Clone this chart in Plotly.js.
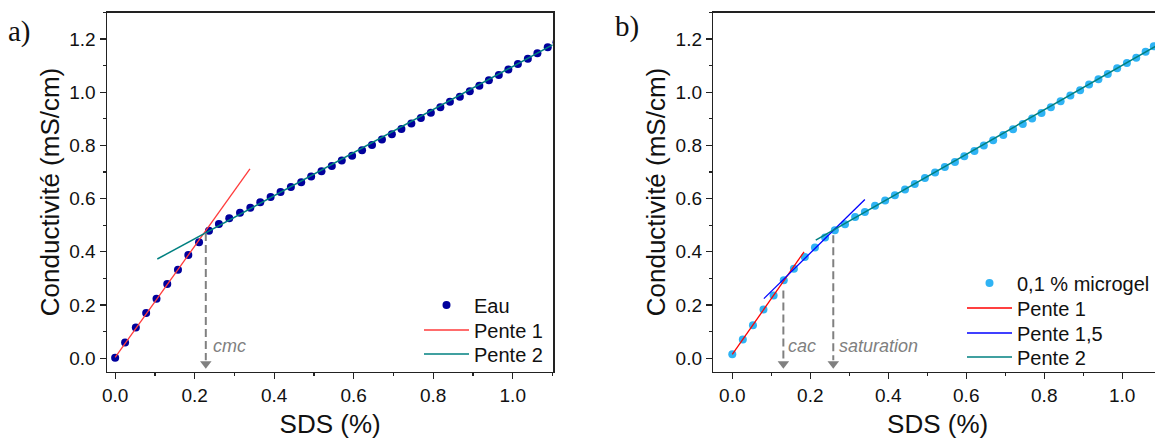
<!DOCTYPE html>
<html>
<head>
<meta charset="utf-8">
<script src="https://cdn.plot.ly/plotly-3.0.1.min.js"></script>
<style>
html, body { margin: 0; padding: 0; overflow: hidden; background: #fff; width: 1155px; height: 441px; }
#chart { width: 1162px; height: 441px; }
</style>
</head>
<body>
<div id="chart"></div>
<script>
// ---- Panel a) : Eau ----
const eauX = [0, 0.025, 0.052, 0.078, 0.104, 0.131, 0.158, 0.184, 0.211, 0.236, 0.261, 0.287, 0.314, 0.340, 0.365, 0.391, 0.416, 0.442, 0.468, 0.493, 0.519, 0.545, 0.570, 0.596, 0.621, 0.646, 0.671, 0.696, 0.720, 0.745, 0.769, 0.794, 0.818, 0.842, 0.867, 0.892, 0.916, 0.940, 0.965, 0.989, 1.013, 1.038, 1.062, 1.088, 1.110];
const eauY = [0.002, 0.059, 0.115, 0.170, 0.224, 0.279, 0.333, 0.388, 0.436, 0.479, 0.505, 0.526, 0.547, 0.566, 0.586, 0.606, 0.625, 0.644, 0.662, 0.683, 0.703, 0.723, 0.743, 0.761, 0.782, 0.802, 0.822, 0.842, 0.862, 0.883, 0.903, 0.923, 0.944, 0.964, 0.983, 1.004, 1.025, 1.045, 1.065, 1.086, 1.106, 1.126, 1.147, 1.169, 1.188];
const aPente1X = [0, 0.339];
const aPente1Y = [0.003, 0.712];
const aPente2X = [0.106, 1.10];
const aPente2Y = [0.373, 1.178];
const cmcX = 0.228;
const cmcY = 0.471;

// ---- Panel b) : 0,1 % microgel ----
const mgX = [0, 0.027, 0.053, 0.080, 0.106, 0.132, 0.158, 0.186, 0.212, 0.238, 0.263, 0.289, 0.315, 0.340, 0.366, 0.392, 0.417, 0.443, 0.468, 0.494, 0.520, 0.545, 0.571, 0.595, 0.621, 0.645, 0.669, 0.695, 0.720, 0.745, 0.769, 0.793, 0.817, 0.842, 0.867, 0.892, 0.915, 0.939, 0.963, 0.987, 1.012, 1.036, 1.060, 1.081];
const mgY = [0.015, 0.070, 0.124, 0.183, 0.236, 0.293, 0.336, 0.381, 0.416, 0.454, 0.481, 0.504, 0.531, 0.550, 0.573, 0.593, 0.613, 0.634, 0.655, 0.678, 0.698, 0.719, 0.738, 0.759, 0.779, 0.800, 0.820, 0.839, 0.861, 0.881, 0.901, 0.922, 0.944, 0.966, 0.988, 1.008, 1.029, 1.049, 1.069, 1.090, 1.110, 1.130, 1.152, 1.173];
const bPente1X = [0, 0.184];
const bPente1Y = [0.014, 0.400];
const bPente15X = [0.081, 0.340];
const bPente15Y = [0.224, 0.597];
const bPente2X = [0.214, 1.10];
const bPente2Y = [0.444, 1.185];
const cacX = 0.131;
const cacY = 0.255;
const satX = 0.259;
const satY = 0.462;

const arrowBottom = -0.008;
const arrowTip = -0.021;

const FONT = 'Liberation Sans, Arial, sans-serif';
const GRAY = '#808080';

function dashed(x, yTop, xa, ya) {
  return [
    {x: [x, x], y: [yTop, arrowBottom], xaxis: xa, yaxis: ya, mode: 'lines',
     line: {color: GRAY, width: 2, dash: '8px,4px'}, showlegend: false, hoverinfo: 'skip'},
    {x: [x], y: [arrowTip], xaxis: xa, yaxis: ya, mode: 'markers',
     marker: {symbol: 'triangle-down', size: 10, color: GRAY}, showlegend: false, hoverinfo: 'skip'}
  ];
}

const traces = [
  {x: eauX, y: eauY, xaxis: 'x', yaxis: 'y', mode: 'markers', name: 'Eau',
   marker: {color: '#00009C', size: 8}, legend: 'legend'},
  {x: aPente1X, y: aPente1Y, xaxis: 'x', yaxis: 'y', mode: 'lines', name: 'Pente 1',
   line: {color: '#FF3B3B', width: 1.3}, legend: 'legend2'},
  {x: aPente2X, y: aPente2Y, xaxis: 'x', yaxis: 'y', mode: 'lines', name: 'Pente 2',
   line: {color: '#008080', width: 1.5}, legend: 'legend3'},
  ...dashed(cmcX, cmcY, 'x', 'y'),
  {x: mgX, y: mgY, xaxis: 'x2', yaxis: 'y2', mode: 'markers', name: '0,1 % microgel',
   marker: {color: '#2FB3F4', size: 8}, legend: 'legend4'},
  {x: bPente1X, y: bPente1Y, xaxis: 'x2', yaxis: 'y2', mode: 'lines', name: 'Pente 1',
   line: {color: '#FF0000', width: 1.3}, legend: 'legend5'},
  {x: bPente15X, y: bPente15Y, xaxis: 'x2', yaxis: 'y2', mode: 'lines', name: 'Pente 1,5',
   line: {color: '#0000FF', width: 1.3}, legend: 'legend6'},
  {x: bPente2X, y: bPente2Y, xaxis: 'x2', yaxis: 'y2', mode: 'lines', name: 'Pente 2',
   line: {color: '#008080', width: 1.5}, legend: 'legend7'},
  ...dashed(cacX, cacY, 'x2', 'y2'),
  ...dashed(satX, satY, 'x2', 'y2')
];

const W = 1162, H = 441;
function axisCommon() {
  return {
    showline: true, linecolor: '#222', linewidth: 1.5, mirror: true,
    ticks: 'outside', ticklen: 6, tickwidth: 1.2, tickcolor: '#222',
    showgrid: false, zeroline: false, automargin: true,
    tickfont: {family: FONT, size: 19, color: '#111'},
    tickformat: '.1f', dtick: 0.2, tick0: 0,
    minor: {ticks: 'outside', ticklen: 3, tickwidth: 1.2, tickcolor: '#222', dtick: 0.1, tick0: 0, showgrid: false}
  };
}
const yDom = [1 - 371.5 / H, 1 - 12.5 / H];
const titleFont = {family: FONT, size: 26, color: '#111'};

function leg(xPx, yPx) {
  return {x: xPx / W, xanchor: 'left', y: 1 - yPx / H, yanchor: 'middle', bgcolor: 'rgba(0,0,0,0)',
    font: {family: FONT, size: 20, color: '#111'}, itemwidth: 45};
}
const legAx = 419, legBx = 962;

const layout = {
  width: W, height: H,
  margin: {l: 0, r: 0, t: 0, b: 0, autoexpand: false},
  paper_bgcolor: '#fff', plot_bgcolor: '#fff',
  font: {family: FONT, color: '#111'},
  showlegend: true,
  xaxis: Object.assign(axisCommon(), {domain: [107 / W, 553.3 / W], range: [-0.0205, 1.102], anchor: 'y',
    title: {text: 'SDS (%)', font: titleFont, standoff: 10}}),
  yaxis: Object.assign(axisCommon(), {domain: yDom, range: [-0.05, 1.30], anchor: 'x',
    title: {text: 'Conductivité (mS/cm)', font: titleFont, standoff: 2}}),
  xaxis2: Object.assign(axisCommon(), {domain: [713.3 / W, 1], range: [-0.0487, 1.102], anchor: 'y2',
    title: {text: 'SDS (%)', font: titleFont, standoff: 10}}),
  yaxis2: Object.assign(axisCommon(), {domain: yDom, range: [-0.05, 1.30], anchor: 'x2',
    title: {text: 'Conductivité (mS/cm)', font: titleFont, standoff: 2}}),
  legend: leg(legAx, 305),
  legend2: leg(legAx, 330),
  legend3: leg(legAx, 354),
  legend4: leg(legBx, 283),
  legend5: leg(legBx, 308),
  legend6: leg(legBx, 333),
  legend7: leg(legBx, 357),
  annotations: [
    {text: 'a)', xref: 'paper', yref: 'paper', x: 6 / W, y: 1 - 31 / H, xanchor: 'left', yanchor: 'middle',
     showarrow: false, font: {family: 'Liberation Serif, Times New Roman, serif', size: 29, color: '#111'}},
    {text: 'b)', xref: 'paper', yref: 'paper', x: 613 / W, y: 1 - 26 / H, xanchor: 'left', yanchor: 'middle',
     showarrow: false, font: {family: 'Liberation Serif, Times New Roman, serif', size: 29, color: '#111'}},
    {text: '<i>cmc</i>', xref: 'x', yref: 'y', x: 0.240, y: 0.047, xanchor: 'left', yanchor: 'middle',
     showarrow: false, font: {family: FONT, size: 18, color: GRAY}},
    {text: '<i>cac</i>', xref: 'x2', yref: 'y2', x: 0.138, y: 0.046, xanchor: 'left', yanchor: 'middle',
     showarrow: false, font: {family: FONT, size: 18, color: GRAY}},
    {text: '<i>saturation</i>', xref: 'x2', yref: 'y2', x: 0.268, y: 0.046, xanchor: 'left', yanchor: 'middle',
     showarrow: false, font: {family: FONT, size: 18, color: GRAY}}
  ]
};

Plotly.newPlot('chart', traces, layout, {displayModeBar: false, staticPlot: true});
</script>
</body>
</html>
